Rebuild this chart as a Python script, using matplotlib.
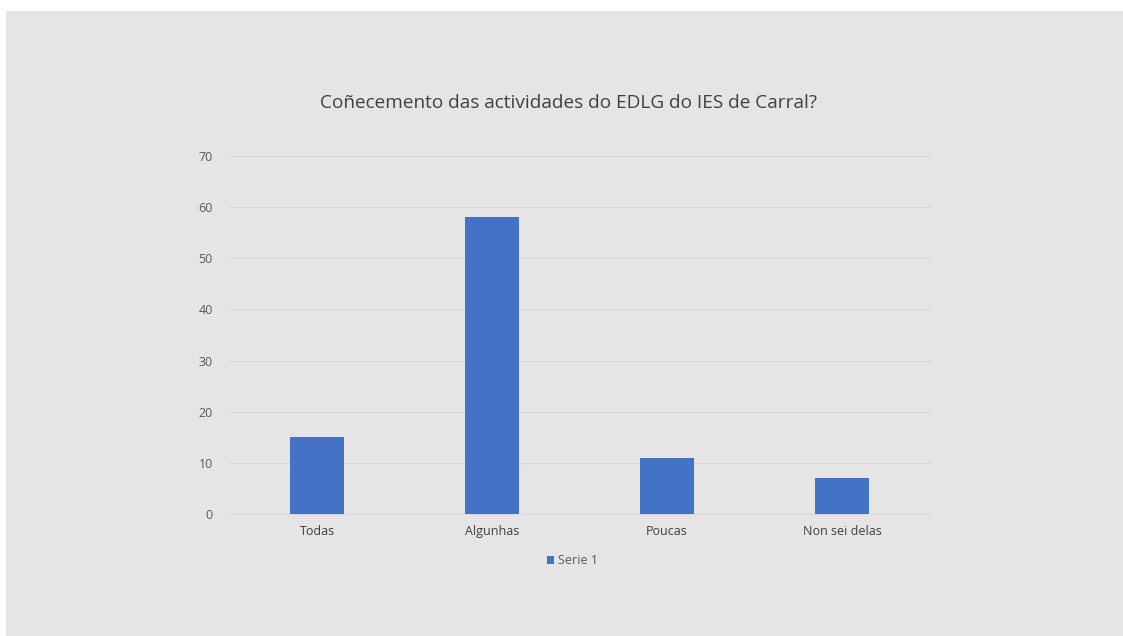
import matplotlib.pyplot as plt
from matplotlib.patches import Rectangle

# datos
categorias = ["Todas", "Algunhas", "Poucas", "Non sei delas"]
valores = [15, 58, 11, 7]
yticks = [0, 10, 20, 30, 40, 50, 60, 70]

plt.rcParams["font.family"] = ["Open Sans", "DejaVu Sans"]

W, H = 1123, 636
fig = plt.figure(figsize=(W / 100, H / 100), dpi=100, facecolor="white")

# fondo gris do gráfico
fig.patches.append(Rectangle((6 / W, 0), 1 - 6 / W, 1 - 11 / H,
                             transform=fig.transFigure, facecolor="#e6e4e4",
                             edgecolor="none", zorder=-10))

ax = fig.add_axes([229.5 / W, 1 - 514 / H, 700 / W, 358 / H])
ax.set_facecolor("none")
ax.set_zorder(5)

x = range(len(categorias))
ax.bar(x, valores, width=0.314, color="#4472c4", zorder=3, label="Serie 1")

ax.set_xlim(-0.5, len(categorias) - 0.5)
ax.set_ylim(0, 70)
ax.set_yticks(yticks)
ax.set_xticks(list(x))
ax.set_xticklabels(categorias)

for y in yticks:
    ax.axhline(y, color="#dad8d8", lw=0.9, zorder=1, clip_on=False)

for s in ax.spines.values():
    s.set_visible(False)
ax.tick_params(axis="both", length=0, labelsize=9, colors="#595959")
ax.tick_params(axis="y", pad=12)
ax.tick_params(axis="x", pad=8, labelcolor="#404040")

fig.text(569 / W, 1 - 103 / H, "Coñecemento das actividades do EDLG do IES de Carral?",
         ha="center", va="center", fontsize=13.7, color="#404040")

leg = ax.legend(loc="center", bbox_to_anchor=(0.49, -0.13), frameon=False,
                fontsize=9, handlelength=0.6, handleheight=0.6, handletextpad=0.3,
                labelcolor="#595959")

fig.savefig("out.png", dpi=100, facecolor="white")
